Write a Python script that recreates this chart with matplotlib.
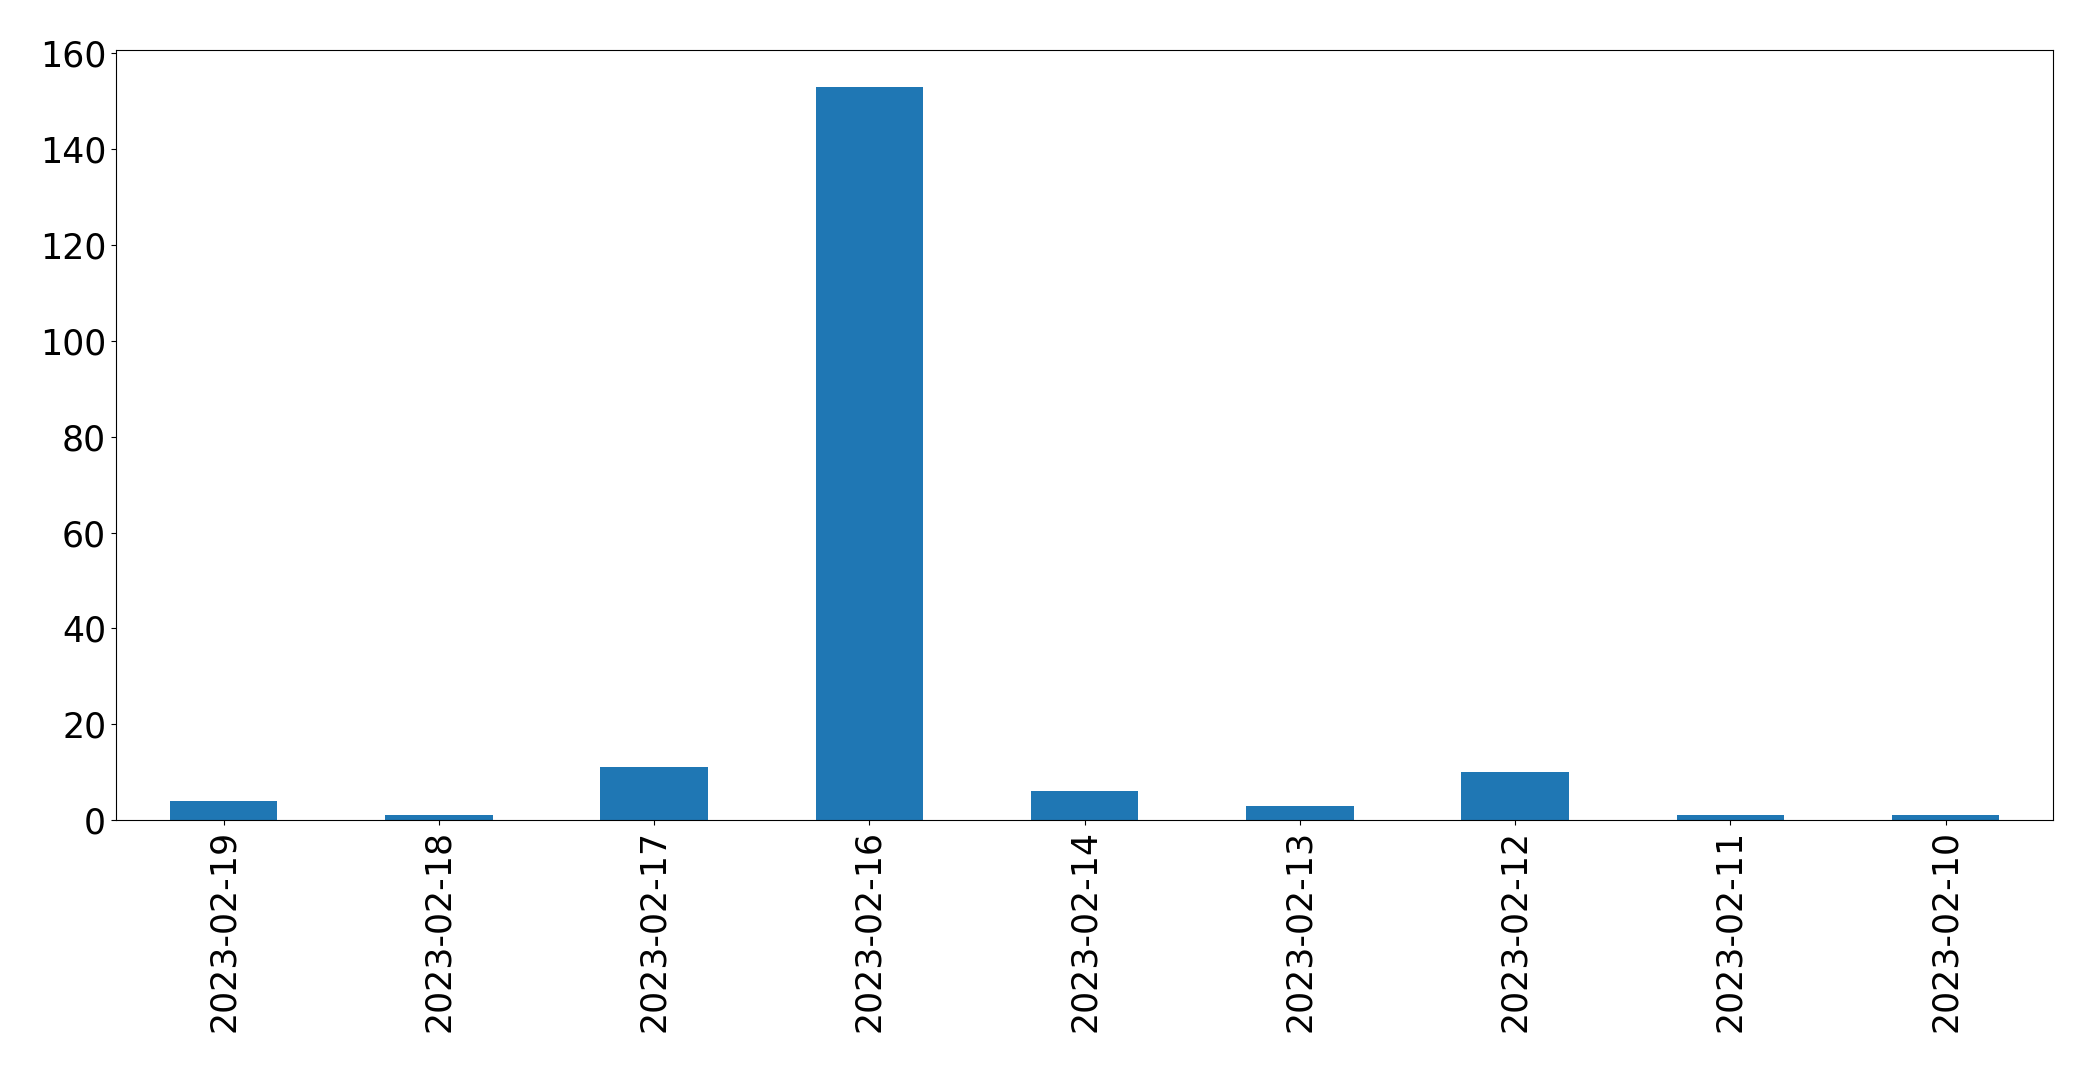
import pandas as pd
import matplotlib
matplotlib.use("Agg")
import matplotlib.pyplot as plt

fechas = ["2023-02-19", "2023-02-18", "2023-02-17", "2023-02-16", "2023-02-14",
          "2023-02-13", "2023-02-12", "2023-02-11", "2023-02-10"]
conteo = [4, 1, 11, 153, 6, 3, 10, 1, 1]

serie = pd.Series(conteo, index=fechas)

fig, ax = plt.subplots(figsize=(20.93, 10.72), dpi=100)
serie.plot(kind="bar", ax=ax, fontsize=25, color="#1f77b4")
ax.set_ylim(0, 160.65)
plt.subplots_adjust(left=0.0554, right=0.981, top=0.953, bottom=0.235)
plt.savefig("out.png")
